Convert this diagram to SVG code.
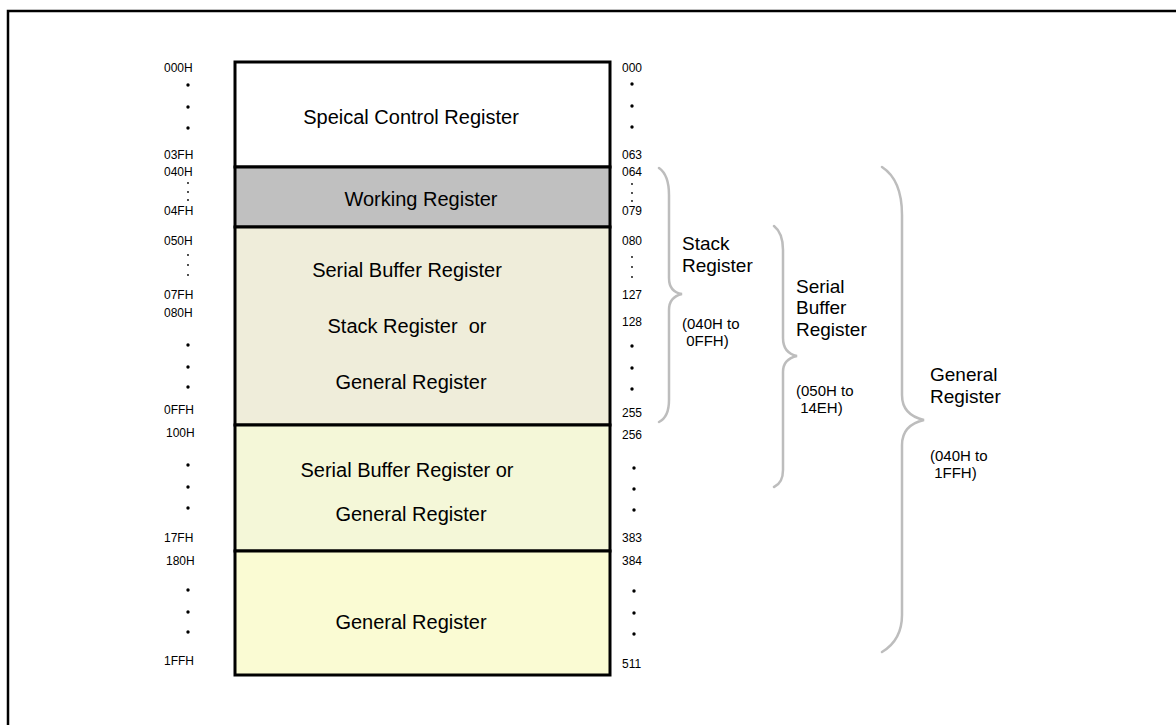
<svg xmlns="http://www.w3.org/2000/svg" width="1176" height="725" viewBox="0 0 1176 725">
<style>
.t{font-family:"Liberation Sans",Arial,sans-serif;fill:#000}
.big{font-size:20px}
.lab{font-size:19px}
.sm{font-size:12px}
.par{font-size:15px}
.box{stroke:#000;stroke-width:3}
.br{fill:none;stroke:#bdbdbd;stroke-width:2.5;stroke-linecap:round}
</style>
<rect width="1176" height="725" fill="#fff"/>
<rect x="8" y="11" width="1250" height="800" fill="none" stroke="#000" stroke-width="2.5"/>
<g id="special"><rect class="box" x="235" y="62" width="375" height="105" fill="#ffffff"/><text class="t big" x="411" y="124" text-anchor="middle">Speical Control Register</text></g>
<g id="working"><rect class="box" x="235" y="167" width="375" height="60" fill="#c0c0c0"/><text class="t big" x="421" y="206" text-anchor="middle">Working Register</text></g>
<g id="serialstack"><rect class="box" x="235" y="227" width="375" height="198" fill="#efedda"/><text class="t big" x="407" y="277" text-anchor="middle">Serial Buffer Register</text><text class="t big" x="407" y="333" text-anchor="middle">Stack Register&#160; or</text><text class="t big" x="411" y="389" text-anchor="middle">General Register</text></g>
<g id="serialgen"><rect class="box" x="235" y="425" width="375" height="126" fill="#f4f7d8"/><text class="t big" x="407" y="477" text-anchor="middle">Serial Buffer Register or</text><text class="t big" x="411" y="521" text-anchor="middle">General Register</text></g>
<g id="general"><rect class="box" x="235" y="551" width="375" height="124" fill="#fafbd3"/><text class="t big" x="411" y="629" text-anchor="middle">General Register</text></g>
<g id="leftaddr" class="t sm">
<text x="164" y="72">000H</text><text x="164" y="159">03FH</text><text x="164" y="176">040H</text><text x="164" y="215">04FH</text><text x="164" y="245">050H</text><text x="164" y="299">07FH</text><text x="164" y="317">080H</text><text x="164" y="414">0FFH</text><text x="166" y="437">100H</text><text x="164" y="542">17FH</text><text x="166" y="565">180H</text><text x="164" y="665">1FFH</text>
</g>
<g id="rightaddr" class="t sm">
<text x="622" y="72">000</text><text x="622" y="159">063</text><text x="622" y="176">064</text><text x="622" y="215">079</text><text x="622" y="245">080</text><text x="622" y="299">127</text><text x="622" y="326">128</text><text x="622" y="417">255</text><text x="622" y="439">256</text><text x="622" y="542">383</text><text x="622" y="565">384</text><text x="622" y="668">511</text>
</g>
<g id="dots" fill="#000">
<circle cx="188" cy="85" r="1.7"/><circle cx="188" cy="107" r="1.7"/><circle cx="188" cy="128" r="1.7"/>
<circle cx="188" cy="183" r="0.9"/><circle cx="188" cy="192" r="0.9"/><circle cx="188" cy="200" r="0.9"/>
<circle cx="188" cy="255" r="0.9"/><circle cx="188" cy="265" r="0.9"/><circle cx="188" cy="275" r="0.9"/>
<circle cx="188" cy="345" r="1.7"/><circle cx="188" cy="367" r="1.7"/><circle cx="188" cy="387" r="1.7"/>
<circle cx="188" cy="465" r="1.7"/><circle cx="188" cy="487" r="1.7"/><circle cx="188" cy="508" r="1.7"/>
<circle cx="188" cy="590" r="1.7"/><circle cx="188" cy="612" r="1.7"/><circle cx="188" cy="632" r="1.7"/>
<circle cx="632" cy="84" r="1.7"/><circle cx="632" cy="106" r="1.7"/><circle cx="632" cy="127" r="1.7"/>
<circle cx="632" cy="184" r="0.9"/><circle cx="632" cy="193" r="0.9"/><circle cx="632" cy="201" r="0.9"/>
<circle cx="632" cy="257" r="0.9"/><circle cx="632" cy="267" r="0.9"/><circle cx="632" cy="277" r="0.9"/>
<circle cx="632" cy="346" r="1.7"/><circle cx="632" cy="368" r="1.7"/><circle cx="632" cy="389" r="1.7"/>
<circle cx="634" cy="468" r="1.7"/><circle cx="634" cy="489" r="1.7"/><circle cx="634" cy="510" r="1.7"/>
<circle cx="634" cy="591" r="1.7"/><circle cx="634" cy="613" r="1.7"/><circle cx="634" cy="634" r="1.7"/>
</g>
<g id="connectors">
<path class="br" d="M659 168 Q669 175 669 195 L669 278 Q669 292 682 294 Q669 297 669 310 L669 400 Q669 417 659 422"/>
<path class="br" d="M774 226 Q783 233 783 250 L783 338 Q783 353 797 356 Q783 359 783 372 L783 470 Q783 483 774 487"/>
<path class="br" d="M882 167 Q902 180 902 215 L902 395 Q902 415 924 420 Q902 425 902 445 L902 615 Q902 640 882 652"/>
</g>
<g id="stacklabel" class="t"><text class="lab" x="682" y="250">Stack</text><text class="lab" x="682" y="272">Register</text><text class="par" x="682" y="329">(040H to</text><text class="par" x="682" y="346">&#160;0FFH)</text></g>
<g id="seriallabel" class="t"><text class="lab" x="796" y="293">Serial</text><text class="lab" x="796" y="314">Buffer</text><text class="lab" x="796" y="336">Register</text><text class="par" x="796" y="396">(050H to</text><text class="par" x="796" y="413">&#160;14EH)</text></g>
<g id="generallabel" class="t"><text class="lab" x="930" y="381">General</text><text class="lab" x="930" y="403">Register</text><text class="par" x="930" y="461">(040H to</text><text class="par" x="930" y="478">&#160;1FFH)</text></g>
</svg>
